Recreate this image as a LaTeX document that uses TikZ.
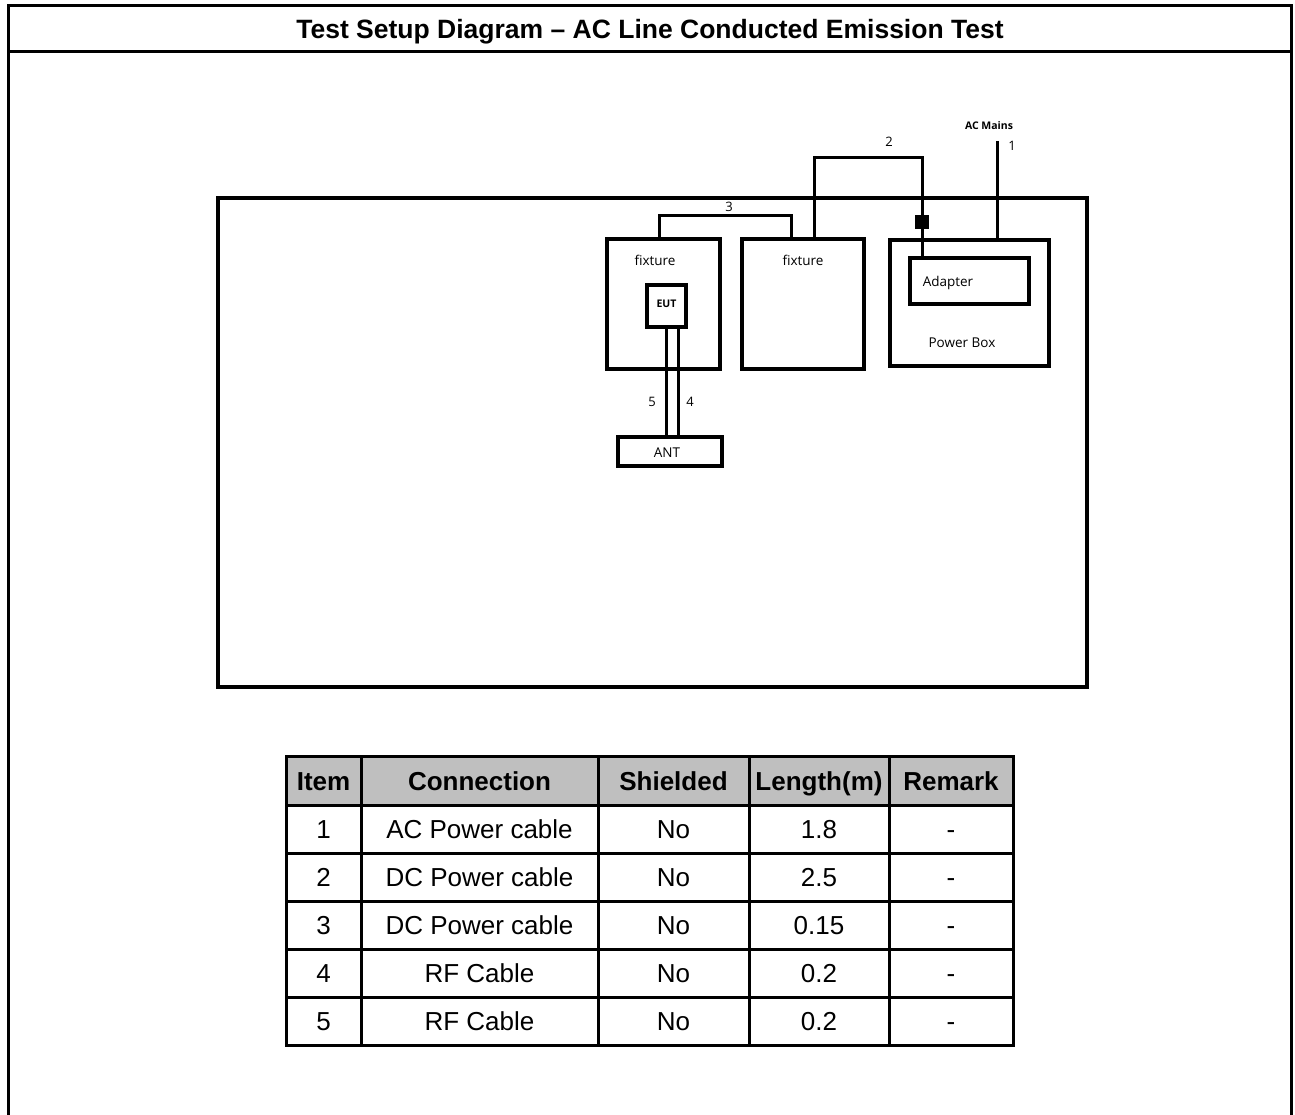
\documentclass[tikz,border=0pt]{standalone}
\usepackage{fontspec}
\setmainfont{Liberation Sans}
\newfontfamily\segoe{Open Sans}
\begin{document}
\begin{tikzpicture}[x=1pt,y=-1pt,
  frame/.style={line width=3pt, line cap=rect},
  box/.style={draw, line width=3.2pt, rectangle, inner sep=0pt},
  cable/.style={line width=3pt},
  lbl/.style={font=\segoe\fontsize{13.5}{16}\selectfont, inner sep=0pt},
  num/.style={font=\segoe\fontsize{13}{15}\selectfont, inner sep=0pt},
  cell/.style={font=\fontsize{26}{30}\selectfont, inner sep=0pt, text height=18.6pt, text depth=0pt},
  hcell/.style={cell, font=\bfseries\fontsize{26}{30}\selectfont},
]
\useasboundingbox (0,0) rectangle (1295,1115);
% outer frame
\draw[line width=3pt] (8,1125) -- (8,6) -- (1291,6) -- (1291,1125);
\draw[line width=3pt] (8,52) -- (1291,52);
\node[font=\bfseries\fontsize{26.5}{30}\selectfont, inner sep=0pt, text height=19pt, text depth=0pt] (title) at (650,29) {Test Setup Diagram – AC Line Conducted Emission Test};

% diagram
\node[box, minimum width=869, minimum height=489] (room) at (652.5,442.5) {};
\node[box, minimum width=113, minimum height=130] (fix1) at (663.5,304) {};
\node[box, minimum width=122, minimum height=130] (fix2) at (803,304) {};
\node[box, minimum width=159, minimum height=126] (pbox) at (969.5,303) {};
\node[box, minimum width=119, minimum height=46] (adapter) at (969.5,281) {};
\node[box, minimum width=39, minimum height=42] (eut) at (666.5,306) {};
\node[box, minimum width=104, minimum height=29] (ant) at (670,451.5) {};

\node[lbl] (fix1l) at (655,260) {fixture};
\node[lbl] (fix2l) at (803,260) {fixture};
\node[lbl, font=\segoe\bfseries\fontsize{10.5}{12}\selectfont] (eutl) at (666.5,304) {EUT};
\node[lbl] (adl) at (948,283) {Adapter};
\node[lbl] (pbl) at (962,343) {Power Box};
\node[lbl] (antl) at (667,453) {ANT};
\node[lbl, font=\segoe\bfseries\fontsize{10.5}{12}\selectfont] (acm) at (989,126) {AC Mains};

% cables
\draw[cable] (fix1.north -| 659,0) |- (791,216) -- (fix2.north -| 791,0);
\draw[cable] (fix2.north -| 814,0) |- (922,158) -- (adapter.north -| 922,0);
\node[fill, minimum size=14, inner sep=0pt] (plug) at (922,222) {};
\coordinate (mains) at (997,141);
\draw[cable] (mains) -- (pbox.north -| mains);
\draw[cable] (eut.south -| 666,0) -- (ant.north -| 666,0);
\draw[cable] (eut.south -| 678,0) -- (ant.north -| 678,0);

\node[num] (n1) at (1012,146) {1};
\node[num] (n2) at (889,142) {2};
\node[num] (n3) at (729,207) {3};
\node[num] (n4) at (690,402) {4};
\node[num] (n5) at (652,402) {5};

% table
\fill[gray!50] (286,756) rectangle (1013,805);
\foreach \xx in {286,361,598,749,889,1013} \draw[frame] (\xx,756) -- (\xx,1045);
\foreach \yy in {756,805,853,901,949,997,1045} \draw[frame] (286,\yy) -- (1013,\yy);
\node[hcell] (h1) at (323.5,781) {Item};
\node[hcell] (h2) at (479.5,781) {Connection};
\node[hcell] (h3) at (673.5,781) {Shielded};
\node[hcell] (h4) at (819,781) {Length(m)};
\node[hcell] (h5) at (951,781) {Remark};
\foreach \n/\conn/\len [count=\r] in {1/AC Power cable/1.8, 2/DC Power cable/2.5, 3/DC Power cable/0.15, 4/RF Cable/0.2, 5/RF Cable/0.2} {
  \pgfmathsetmacro{\yc}{829.5+48*(\r-1)}
  \node[cell] (r\r c1) at (323.5,\yc) {\n};
  \node[cell] (r\r c2) at (479.5,\yc) {\conn};
  \node[cell] (r\r c3) at (673.5,\yc) {No};
  \node[cell] (r\r c4) at (819,\yc) {\len};
  \node[cell] (r\r c5) at (951,\yc) {-};
}
\end{tikzpicture}
\end{document}
